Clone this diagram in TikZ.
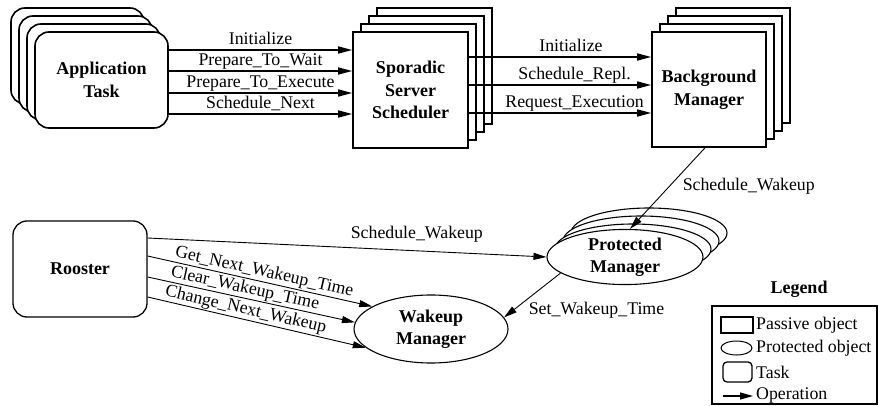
\documentclass[tikz,border=0pt]{standalone}
\usepackage{fontspec}
\setmainfont{Liberation Serif}
\usetikzlibrary{arrows.meta,shapes.geometric,calc}
\begin{document}
\begin{tikzpicture}[x=1pt,y=-1pt,
  lbl/.style={font=\fontsize{17.8}{20}\selectfont, inner sep=1pt},
  albl/.style={lbl, above, text height=12pt, text depth=4pt},
  ttl/.style={font=\fontsize{18}{22.5}\selectfont\bfseries, align=center},
  taskbox/.style={draw, line width=1.6pt, rounded corners=14pt, fill=white, inner sep=0pt},
  pasv/.style={draw, line width=1.6pt, fill=white, inner sep=0pt},
  prot/.style={ellipse, draw, line width=1.1pt, fill=white, inner sep=0pt},
  op/.style={-{Triangle[length=14pt,width=7pt]}, line width=1.5pt},
  opthin/.style={-{Triangle[length=13pt,width=7pt]}, line width=0.9pt}
]
\useasboundingbox (0,0) rectangle (878,406);

% Application Task stack
\foreach \i/\x/\y in {3/77.5/56, 2/85.5/64, 1/93.5/72}
  \node[taskbox, minimum width=133pt, minimum height=96pt] (app\i) at (\x,\y) {};
\node[taskbox, ttl, minimum width=133pt, minimum height=96pt] (app) at (101.5,80) {Application\\Task};

% Sporadic Server Scheduler stack
\foreach \i/\x/\y in {3/434.5/66, 2/426.5/74, 1/418.5/82}
  \node[pasv, minimum width=115pt, minimum height=116pt] (sps\i) at (\x,\y) {};
\node[pasv, ttl, minimum width=115pt, minimum height=116pt] (sps) at (410.5,90) {Sporadic\\Server\\Scheduler};

% Background Manager stack
\foreach \i/\x/\y in {3/733/65.5, 2/725/73.5, 1/717/81.5}
  \node[pasv, minimum width=114pt, minimum height=115pt] (bg\i) at (\x,\y) {};
\node[pasv, ttl, minimum width=114pt, minimum height=115pt] (bg) at (709,89.5) {Background\\Manager};

% Protected Manager stack
\foreach \i/\x/\y in {3/649/233, 2/641/241, 1/633/249}
  \node[prot, minimum width=156pt, minimum height=50pt] (pm\i) at (\x,\y) {};
\node[prot, ttl, minimum width=156pt, minimum height=50pt] (pm) at (625,257) {Protected\\Manager};

% Wakeup Manager
\node[prot, ttl, minimum width=154pt, minimum height=68pt] (wm) at (431,329) {Wakeup\\Manager};

% Rooster
\node[taskbox, ttl, line width=1.3pt, minimum width=134pt, minimum height=96pt] (ro) at (80,269) {Rooster};

% App -> Sporadic
\draw[op] (app.east|-0,50) -- node[albl] {Initialize} (sps.west|-0,50);
\draw[op] (app.east|-0,71) -- node[albl] {Prepare\_To\_Wait} (sps.west|-0,71);
\draw[op] (app.east|-0,93) -- node[albl] {Prepare\_To\_Execute} (sps.west|-0,93);
\draw[op] (app.east|-0,114) -- node[albl] {Schedule\_Next} (sps.west|-0,114);

% Sporadic -> Background
\draw[op] (sps.east|-0,57) -- node[albl, pos=0.56] {Initialize} (bg.west|-0,57);
\draw[op] (sps.east|-0,85) -- node[albl, pos=0.58] {Schedule\_Repl.} (bg.west|-0,85);
\draw[op] (sps.east|-0,113) -- node[albl, pos=0.58] {Request\_Execution} (bg.west|-0,113);

% Background -> Protected
\draw[opthin] ($(bg.south)+(-4,0)$) -- node[lbl, pos=0.476, anchor=west, xshift=12pt] {Schedule\_Wakeup} ($(pm.north)+(5,0)$);

% Rooster -> Protected
\draw[opthin] (ro.east|-0,238) -- node[lbl, pos=0.675, above=7pt] {Schedule\_Wakeup} (pm.west);

% Rooster -> Wakeup
\draw[opthin] (ro.east|-0,256) -- node[lbl, sloped, above, pos=0.51] {Get\_Next\_Wakeup\_Time} (wm.159);
\draw[opthin] (ro.east|-0,277) -- node[lbl, sloped, above, pos=0.46] {Clear\_Wakeup\_Time} (wm.175);
\draw[opthin] (ro.east|-0,297) -- node[lbl, sloped, above, pos=0.44] {Change\_Next\_Wakeup} (wm.196);

% Protected -> Wakeup
\draw[opthin] (pm.194) -- node[lbl, pos=0.8, anchor=west, xshift=12pt, yshift=-2pt] {Set\_Wakeup\_Time} (wm.9);

% Legend
\node[ttl] (lgt) at (799,289) {Legend};
\node[draw, line width=1.6pt, minimum width=165pt, minimum height=98pt, inner sep=0pt] (lgbox) at (794.5,355) {};
\node[pasv, line width=1.3pt, minimum width=32pt, minimum height=16pt] (lg1) at (737,325) {};
\node[prot, line width=1pt, minimum width=31pt, minimum height=14pt] (lg2) at (736.5,348) {};
\node[taskbox, line width=1.3pt, rounded corners=4pt, minimum width=29pt, minimum height=20pt] (lg3) at (737.5,372) {};
\coordinate (lg4a) at (723,396);
\coordinate (lg4b) at (753,396);
\draw[-{Triangle[length=13pt,width=7pt]}, line width=1.2pt] (lg4a) -- (lg4b);
\node[lbl, anchor=west] (lt1) at (755,325) {Passive object};
\node[lbl, anchor=west] (lt2) at (755,348) {Protected object};
\node[lbl, anchor=west] (lt3) at (755,372) {Task};
\node[lbl, anchor=west] (lt4) at (755,395) {Operation};
\end{tikzpicture}
\end{document}
